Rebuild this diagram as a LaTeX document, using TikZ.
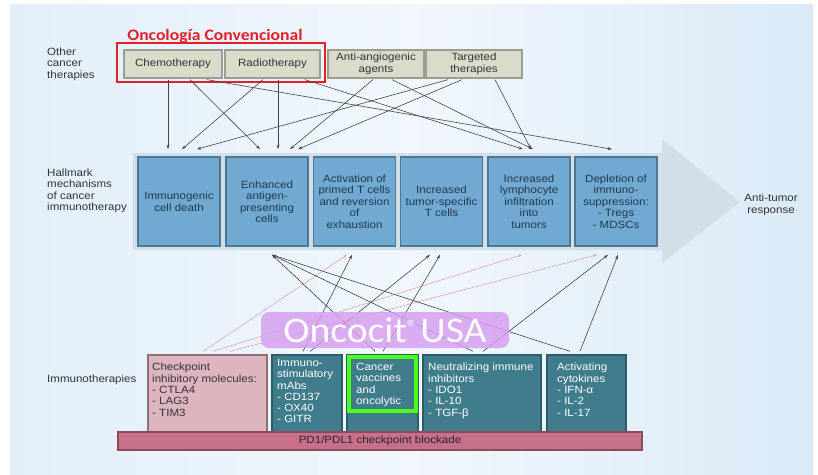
\documentclass[tikz,border=0pt]{standalone}
\usepackage{fontspec}
\setmainfont{Liberation Sans}[FakeStretch=1.1]
\newfontfamily\carlito{Carlito}[FakeStretch=1.1]
\usetikzlibrary{arrows.meta}
\definecolor{bgL}{HTML}{E2EFFA}
\definecolor{bgM}{HTML}{F1F7FC}
\definecolor{bgR}{HTML}{DAEAF8}
\definecolor{arrowfill}{HTML}{D3DFE8}
\definecolor{topfill}{HTML}{D9DCCA}
\definecolor{topborder}{HTML}{9A9D8F}
\definecolor{midfill}{HTML}{70AAD3}
\definecolor{midborder}{HTML}{4C7894}
\definecolor{midtext}{HTML}{22384A}
\definecolor{pinkfill}{HTML}{DDB5BF}
\definecolor{pinkborder}{HTML}{8E7078}
\definecolor{tealfill}{HTML}{3F7C8C}
\definecolor{tealborder}{HTML}{2C5C69}
\definecolor{pdfill}{HTML}{C8708A}
\definecolor{pdborder}{HTML}{8C4A5D}
\definecolor{oncofill}{HTML}{D69DF0}
\definecolor{redframe}{HTML}{E3202B}
\definecolor{greenframe}{HTML}{4CFF1A}
\definecolor{darktext}{HTML}{333333}
\definecolor{linecol}{HTML}{454545}
\definecolor{pinkline}{HTML}{E39AAE}
\begin{document}
\begin{tikzpicture}[x=1pt,y=-1pt,
  txt/.style={font=\fontsize{10.5}{11.5}\selectfont},
  toplabel/.style={txt, text=darktext, align=left, anchor=west, inner sep=0pt},
  topbox/.style={txt, draw=topborder, line width=1.3pt, fill=topfill, text=darktext,
    align=center, minimum height=28pt, inner sep=1pt},
  midbox/.style={txt, draw=midborder, line width=1.6pt, fill=midfill, text=midtext,
    align=center, minimum width=82pt, minimum height=89pt, inner sep=1pt},
  botbox/.style={line width=1.3pt, minimum height=77pt, inner sep=0pt},
  bottext/.style={font=\fontsize{10.5}{11.3}\selectfont, align=left, anchor=north west, inner sep=0pt},
  conn/.style={draw=linecol, line width=0.6pt, -{Stealth[length=4.5pt,width=3pt]}},
  pconn/.style={draw=pinkline, line width=0.5pt, -{Stealth[length=4pt,width=2.6pt]}}
]
\useasboundingbox (0,0) rectangle (818,474);
\fill[white] (0,0) rectangle (818,474);
\shade[left color=bgL, right color=bgR, middle color=bgM] (10,4) rectangle (813,474);

% big arrow
\fill[arrowfill] (133,153) -- (662,153) -- (662,139) -- (740,202) -- (662,263) -- (662,250) -- (133,250) -- cycle;

% left labels
\node[toplabel] (lother) at (47,64) {Other\\cancer\\therapies};
\node[toplabel] (lhall) at (47,191) {Hallmark\\mechanisms\\of cancer\\immunotherapy};
\node[toplabel] (limmu) at (47,380) {Immunotherapies};
\node[txt, text=darktext, align=center, inner sep=0pt] (lresp) at (771,205) {Anti-tumor\\response};

% top row
\node[topbox, minimum width=98pt] (chemo) at (173,64) {Chemotherapy};
\node[topbox, minimum width=95pt] (radio) at (272.5,64) {Radiotherapy};
\node[topbox, minimum width=96pt] (anti) at (376,64) {Anti-angiogenic\\agents};
\node[topbox, minimum width=96pt] (targ) at (474,64) {Targeted\\therapies};
\node[draw=redframe, line width=2.5pt, minimum width=208pt, minimum height=39pt, inner sep=0pt] (conv) at (221,62.5) {};
\node[font=\carlito\bfseries\fontsize{16}{18}\selectfont, text=redframe, inner sep=0pt] (convlabel) at (215,36) {Oncología Convencional};

% middle row
\node[midbox] (m1) at (179,201.5) {Immunogenic\\cell death};
\node[midbox] (m2) at (267,201.5) {Enhanced\\antigen-\\presenting\\cells};
\node[midbox] (m3) at (354.5,201.5) {Activation of\\primed T cells\\and reversion\\of\\exhaustion};
\node[midbox] (m4) at (441.5,201.5) {Increased\\tumor-specific\\T cells};
\node[midbox] (m5) at (529,201.5) {Increased\\lymphocyte\\infiltration\\into\\tumors};
\node[midbox] (m6) at (616,201.5) {Depletion of\\immuno-\\suppression:\\- Tregs\\- MDSCs};

% bottom row
\node[botbox, draw=pinkborder, fill=pinkfill, minimum width=119pt] (ck) at (207.5,393.5) {};
\node[botbox, draw=tealborder, fill=tealfill, minimum width=70pt] (ims) at (307,393.5) {};
\node[botbox, draw=tealborder, fill=tealfill, minimum width=71pt] (cv) at (382.5,393.5) {};
\node[botbox, draw=tealborder, fill=tealfill, minimum width=118pt] (ni) at (482,393.5) {};
\node[botbox, draw=tealborder, fill=tealfill, minimum width=79pt] (ac) at (586.5,393.5) {};
\node[draw=pdborder, line width=1.3pt, fill=pdfill, minimum width=524pt, minimum height=18pt, inner sep=0pt,
  font=\fontsize{10.5}{11.5}\selectfont, text=black!85] (pd) at (380,441) {PD1/PDL1 checkpoint blockade};
\node[draw=greenframe, line width=4pt, minimum width=67pt, minimum height=54pt, inner sep=0pt] (cvg) at (382.5,384) {};

\node[bottext, text=darktext] (tck) at (152,363) {Checkpoint\\inhibitory molecules:\\- CTLA4\\- LAG3\\- TIM3};
\node[bottext, text=white] (tims) at (277,359) {Immuno-\\stimulatory\\mAbs\\- CD137\\- OX40\\- GITR};
\node[bottext, text=white] (tcv) at (356,363) {Cancer\\vaccines\\and\\oncolytic};
\node[bottext, text=white] (tni) at (428,363) {Neutralizing immune\\inhibitors\\- IDO1\\- IL-10\\- TGF-β};
\node[bottext, text=white] (tac) at (557,363) {Activating\\cytokines\\- IFN-α\\- IL-2\\- IL-17};

% connectors top -> middle
\draw[conn] ([xshift=-5pt,yshift=-1pt]chemo.south) -- ([xshift=-11pt,yshift=7pt]m1.north);
\draw[conn] ([xshift=17pt,yshift=-1pt]chemo.south) -- ([xshift=-7pt,yshift=7pt]m2.north);
\draw[conn] ([xshift=34pt,yshift=-1pt]chemo.south) -- ([xshift=-4pt,yshift=7pt]m6.north);
\draw[conn] ([xshift=-9.5pt,yshift=-1pt]radio.south) -- ([xshift=3pt,yshift=7pt]m1.north);
\draw[conn] ([xshift=5.5pt,yshift=-1pt]radio.south) -- ([xshift=11pt,yshift=7pt]m2.north);
\draw[conn] ([xshift=32.5pt,yshift=-1pt]radio.south) -- ([xshift=-6pt,yshift=7pt]m5.north);
\draw[conn] ([xshift=-3pt,yshift=-1pt]anti.south) -- ([xshift=23pt,yshift=7pt]m2.north);
\draw[conn] ([xshift=16pt,yshift=-1pt]anti.south) -- ([xshift=4pt,yshift=7pt]m5.north);
\draw[conn] ([xshift=-26pt,yshift=-1pt]targ.south) -- ([xshift=18pt,yshift=7pt]m1.north);
\draw[conn] ([xshift=-12pt,yshift=-1pt]targ.south) -- ([xshift=31pt,yshift=7pt]m2.north);
\draw[conn] ([xshift=21pt,yshift=-1pt]targ.south) -- ([xshift=2pt,yshift=7pt]m5.north);

% connectors bottom -> middle
\draw[pconn] ([xshift=-4.5pt,yshift=3pt]ck.north) -- ([xshift=-7.5pt,yshift=-8pt]m3.south);
\draw[pconn] ([xshift=5.5pt,yshift=3pt]ck.north) -- ([xshift=-7pt,yshift=-8pt]m5.south);
\draw[pconn] ([xshift=22.5pt,yshift=3pt]ck.north) -- ([xshift=-19pt,yshift=-8pt]m6.south);
\draw[conn] ([xshift=-4pt,yshift=3pt]ims.north) -- ([xshift=-2.5pt,yshift=-8pt]m3.south);
\draw[conn] ([xshift=3pt,yshift=3pt]ims.north) -- ([xshift=-11.5pt,yshift=-8pt]m4.south);
\draw[conn] ([xshift=-7.5pt,yshift=3pt]cv.north) -- ([xshift=5pt,yshift=-8pt]m2.south);
\draw[conn] ([xshift=0.5pt,yshift=3pt]cv.north) -- ([xshift=-1.5pt,yshift=-8pt]m4.south);
\draw[conn] ([xshift=-9pt,yshift=3pt]ni.north) -- ([xshift=5pt,yshift=-8pt]m2.south);
\draw[conn] ([xshift=1pt,yshift=3pt]ni.north) -- ([xshift=-8pt,yshift=-8pt]m6.south);
\draw[conn] ([xshift=-16.5pt,yshift=3pt]ac.north) -- ([xshift=5pt,yshift=-8pt]m2.south);
\draw[conn] ([xshift=-6.5pt,yshift=3pt]ac.north) -- ([xshift=2pt,yshift=-8pt]m6.south);

% Oncocit banner
\node[fill=oncofill, fill opacity=0.82, text opacity=1, rounded corners=8pt, minimum width=248pt, minimum height=36pt,
  inner sep=0pt, text=white, font=\carlito\fontsize{36}{38}\selectfont] (onco) at (385,330)
  {Oncocit\raisebox{9pt}{\fontsize{19}{19}\selectfont ®}\hspace{3pt}USA};
\end{tikzpicture}
\end{document}
